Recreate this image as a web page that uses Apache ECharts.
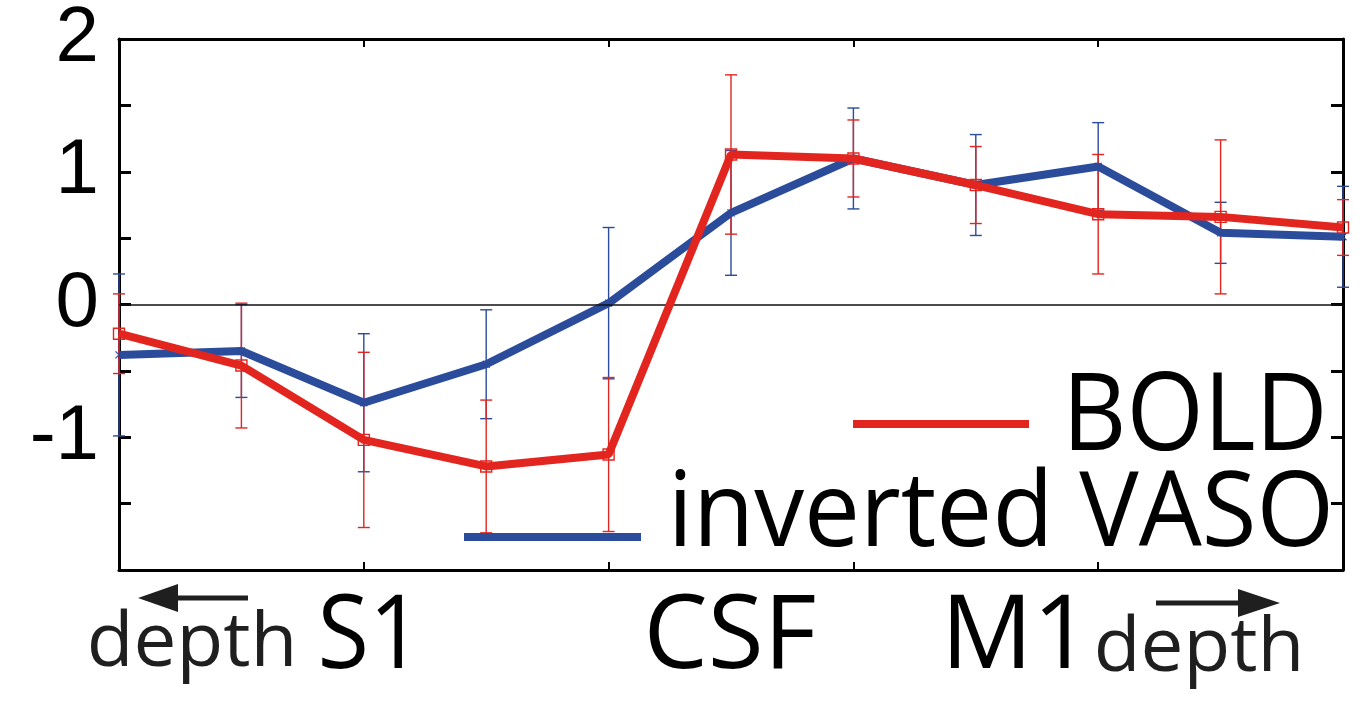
<!DOCTYPE html>
<html>
<head>
<meta charset="utf-8">
<title>BOLD vs inverted VASO across cortical depth</title>
<script src="https://cdn.jsdelivr.net/npm/echarts@6/dist/echarts.min.js"></script>
<style>
  html, body { margin: 0; padding: 0; background: #ffffff; }
  #chart { width: 1369px; height: 701px; }
</style>
</head>
<body>
<div id="chart"></div>
<script>
// Sample positions across the S1 -> CSF -> M1 profile
const depthSteps = [0, 1, 2, 3, 4, 5, 6, 7, 8, 9, 10];

// BOLD response (mean and error)
const boldMean = [-0.22, -0.46, -1.02, -1.22, -1.13, 1.13, 1.10, 0.90, 0.68, 0.66, 0.58];
const boldErr  = [0.30, 0.47, 0.66, 0.50, 0.58, 0.60, 0.29, 0.29, 0.45, 0.58, 0.21];

// Inverted VASO response (mean and error)
const vasoMean = [-0.38, -0.35, -0.74, -0.45, 0.01, 0.69, 1.10, 0.90, 1.04, 0.54, 0.51];
const vasoErr  = [0.61, 0.35, 0.52, 0.41, 0.57, 0.47, 0.38, 0.38, 0.33, 0.23, 0.38];

// Region names under the axis and the labelled y ticks
const regionLabels = ['S1', 'CSF', 'M1'];
const yTickLabels = [-1, 0, 1, 2];

const RED = '#e3251f';
const BLUE = '#2b4b9b';
const TEXT_FONT = '"Open Sans", "Noto Sans", sans-serif';

function pairs(xs, ys) { return xs.map((x, i) => [x, ys[i]]); }
function errRows(xs, m, e) { return xs.map((x, i) => [x, m[i] - e[i], m[i] + e[i]]); }

function errorBarSeries(rows, color, z) {
  return {
    type: 'custom',
    z: z,
    silent: true,
    clip: false,
    data: rows,
    renderItem: function (params, api) {
      const x = api.value(0);
      const lo = api.coord([x, api.value(1)]);
      const hi = api.coord([x, api.value(2)]);
      const cap = 6;
      const st = { stroke: color, lineWidth: 1.4 };
      return {
        type: 'group',
        children: [
          { type: 'line', shape: { x1: lo[0], y1: lo[1], x2: hi[0], y2: hi[1] }, style: st },
          { type: 'line', shape: { x1: lo[0] - cap, y1: lo[1], x2: lo[0] + cap, y2: lo[1] }, style: st },
          { type: 'line', shape: { x1: hi[0] - cap, y1: hi[1], x2: hi[0] + cap, y2: hi[1] }, style: st }
        ]
      };
    }
  };
}

const axisLineStyle = { onZero: false, lineStyle: { color: '#000', width: 3 } };

function xAxisDef(pos) {
  return {
    type: 'value', position: pos, min: 0, max: 10, interval: 2,
    axisLine: axisLineStyle,
    axisTick: { inside: true, length: 8, lineStyle: { color: '#000', width: 2 } },
    axisLabel: { show: false },
    splitLine: { show: false }
  };
}

function yAxisDef(pos, showLabels) {
  return {
    type: 'value', position: pos, min: -2, max: 2, interval: 0.5,
    axisLine: axisLineStyle,
    axisTick: { inside: true, length: 12, lineStyle: { color: '#000', width: 3 } },
    axisLabel: {
      show: showLabels,
      margin: 20,
      fontFamily: '"Liberation Sans", Arial, sans-serif',
      fontSize: 78,
      color: '#000',
      formatter: function (v) { return yTickLabels.indexOf(v) >= 0 ? String(v) : ''; }
    },
    splitLine: { show: false }
  };
}

function label(text, cx, cy, size, scaleX, color) {
  return {
    type: 'text', x: cx, y: cy, scaleX: scaleX, z: 100,
    style: {
      x: 0, y: 0, text: text, fontFamily: TEXT_FONT, fontSize: size,
      fill: color || '#000', align: 'center', verticalAlign: 'middle'
    }
  };
}

const chart = echarts.init(document.getElementById('chart'), null, { renderer: 'canvas' });

chart.setOption({
  animation: false,
  backgroundColor: '#ffffff',
  grid: { left: 119, top: 35, right: 26, bottom: 131, containLabel: false },
  xAxis: [xAxisDef('bottom'), xAxisDef('top')],
  yAxis: [yAxisDef('left', true), yAxisDef('right', false)],
  series: [
    Object.assign(errorBarSeries(errRows(depthSteps, vasoMean, vasoErr), BLUE, 2), {
      markLine: {
        silent: true, symbol: 'none', label: { show: false },
        lineStyle: { color: '#111', width: 1.5, type: 'solid' },
        data: [{ yAxis: 0 }]
      }
    }),
    errorBarSeries(errRows(depthSteps, boldMean, boldErr), RED, 3),
    {
      name: 'inverted VASO', type: 'line', z: 4, clip: false,
      data: pairs(depthSteps, vasoMean),
      lineStyle: { color: BLUE, width: 8 },
      symbol: 'path://M0,0L10,10M10,0L0,10', symbolSize: 7,
      itemStyle: { color: 'none', borderColor: BLUE, borderWidth: 1.2 }
    },
    {
      name: 'BOLD', type: 'line', z: 5, clip: false,
      data: pairs(depthSteps, boldMean),
      lineStyle: { color: RED, width: 8 },
      symbol: 'rect', symbolSize: 11,
      itemStyle: { color: 'none', borderColor: RED, borderWidth: 1.4 }
    }
  ],
  graphic: [
    // legend samples
    { type: 'line', z: 100, shape: { x1: 853, y1: 424, x2: 1029, y2: 424 }, style: { stroke: RED, lineWidth: 8 } },
    { type: 'line', z: 100, shape: { x1: 464, y1: 537, x2: 641, y2: 537 }, style: { stroke: BLUE, lineWidth: 8 } },
    label('BOLD', 1195, 419, 108, 0.92),
    label('inverted VASO', 1001, 516, 105, 0.95),
    // region names
    label(regionLabels[0], 370, 639, 102, 0.92),
    label(regionLabels[1], 730, 639, 102, 1.0),
    label(regionLabels[2], 1016, 639, 102, 1.0),
    // depth direction hints
    label('depth', 192, 645, 75, 1.02, '#1f1f1f'),
    label('depth', 1199, 650, 75, 1.02, '#1f1f1f'),
    { type: 'line', z: 100, shape: { x1: 176, y1: 598, x2: 248, y2: 598 }, style: { stroke: '#1f1f1f', lineWidth: 5 } },
    { type: 'polygon', z: 100, shape: { points: [[138, 598], [178, 584], [178, 612]] }, style: { fill: '#1f1f1f' } },
    { type: 'line', z: 100, shape: { x1: 1156, y1: 603, x2: 1240, y2: 603 }, style: { stroke: '#1f1f1f', lineWidth: 5 } },
    { type: 'polygon', z: 100, shape: { points: [[1280, 603], [1238, 589], [1238, 617]] }, style: { fill: '#1f1f1f' } }
  ]
});
</script>
</body>
</html>
